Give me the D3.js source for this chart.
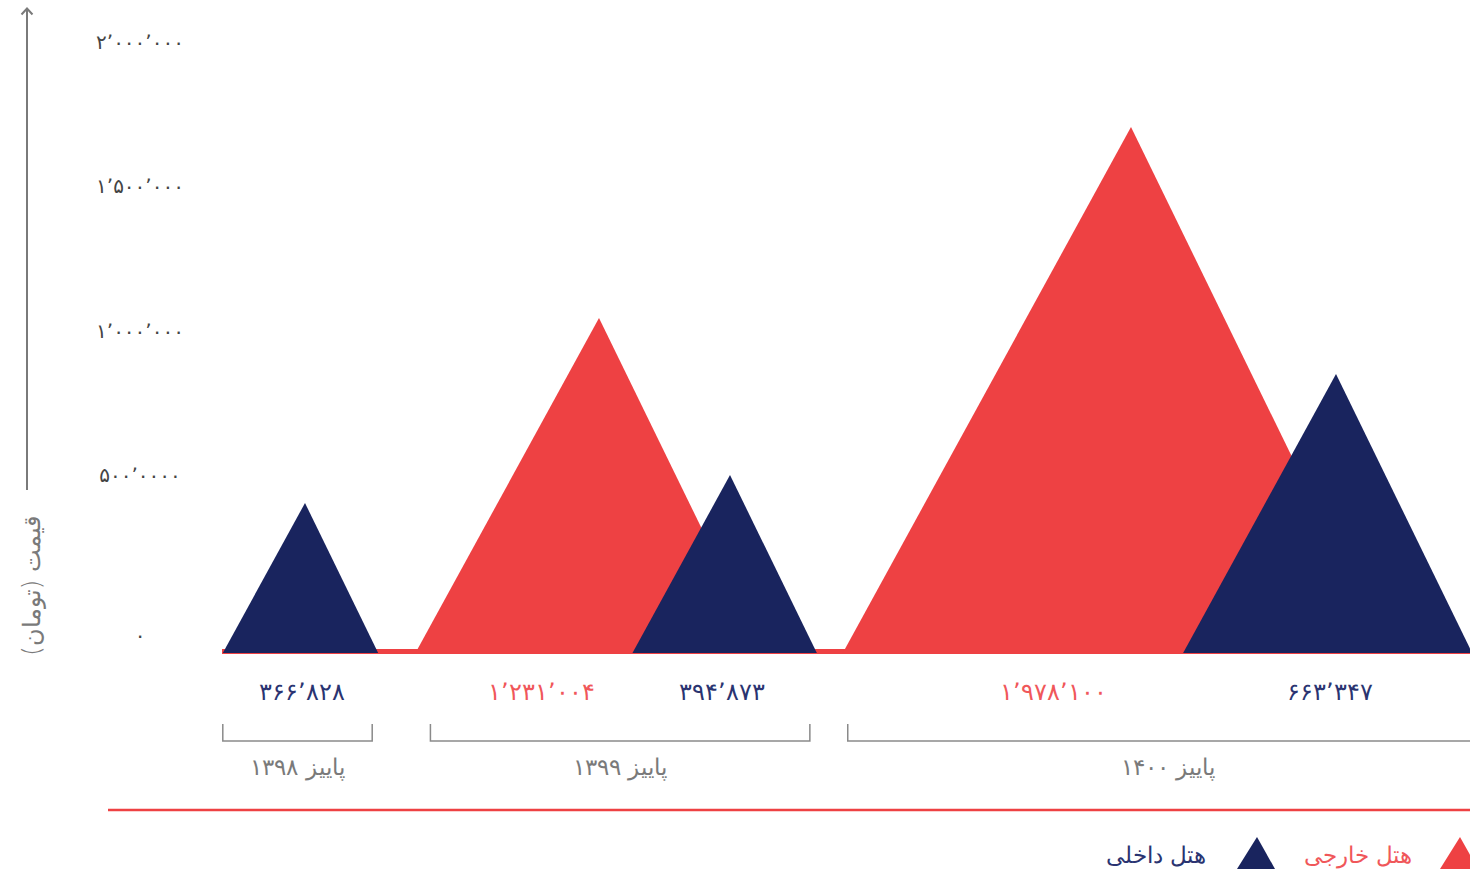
<!DOCTYPE html>
<html>
<head>
<meta charset="utf-8">
<script src="https://cdn.jsdelivr.net/npm/d3@7"></script>
<style>
  html, body { margin: 0; padding: 0; background: #fff; overflow: hidden; }
  svg { display: block; font-family: "DejaVu Sans", "Noto Sans", sans-serif; }
</style>
</head>
<body>
<svg id="chart" width="1470" height="873"></svg>
<script>
// ---------------- DATA ----------------
const periods = ["پاییز ۱۳۹۸", "پاییز ۱۳۹۹", "پاییز ۱۴۰۰"];
const seriesNames = ["هتل خارجی", "هتل داخلی"];          // foreign, domestic
const foreignValues = [null, 1231004, 1978100];            // هتل خارجی
const domesticValues = [366828, 394873, 663347];           // هتل داخلی
const yTickValues = [0, 500000, 1000000, 1500000, 2000000];
const yTickLabels = ["۰", "۵۰۰٬۰۰۰۰", "۱٬۰۰۰٬۰۰۰", "۱٬۵۰۰٬۰۰۰", "۲٬۰۰۰٬۰۰۰"];
const yAxisTitle = "قیمت (تومان)";

// ---------------- STYLE ----------------
const RED = "#EE4143", NAVY = "#19245E", GRAY = "#7a7a7a";
const svg = d3.select("#chart");

// build records
const records = [];
periods.forEach((p, i) => {
  if (foreignValues[i] != null) records.push({period: p, series: "foreign", value: foreignValues[i]});
  if (domesticValues[i] != null) records.push({period: p, series: "domestic", value: domesticValues[i]});
});
const key = d => d.period + "|" + d.series;

const baseY = 653;
// the infographic's own (non-uniform) visual scale for peak heights
const sortedVals = records.map(d => d.value).sort((a, b) => a - b);
const heightScale = d3.scaleLinear()
  .domain([0, ...sortedVals])
  .range([0, 150, 178, 279, 335, 526]);

// horizontal placement of the peaks
const xPeak = d3.scaleOrdinal()
  .domain(records.map(key))
  .range([305, 599, 730, 1131, 1336]);
const xLabel = d3.scaleOrdinal()
  .domain(records.map(key))
  .range([302, 541, 722, 1053, 1330]);

const color = d3.scaleOrdinal().domain(["foreign", "domestic"]).range([RED, NAVY]);
const labelColor = d3.scaleOrdinal().domain(["foreign", "domestic"]).range(["#F0575A", "#2A3471"]);

// y axis label scale
const yScale = d3.scaleLinear().domain([0, 500000, 2000000]).range([635, 475, 42]);

const toFa = s => s.replace(/\d/g, c => "۰۱۲۳۴۵۶۷۸۹"[+c]).replace(/,/g, "٬");
const fmt = v => toFa(d3.format(",")(v));

// ---------------- Y AXIS ----------------
svg.append("line")
  .attr("x1", 27).attr("x2", 27).attr("y1", 8).attr("y2", 490)
  .attr("stroke", GRAY).attr("stroke-width", 2);
svg.append("path")
  .attr("d", "M21.5,14.5 L27,8.5 L32.5,14.5")
  .attr("fill", "none").attr("stroke", GRAY).attr("stroke-width", 2);

svg.append("text")
  .attr("transform", "translate(32,586) rotate(-90)")
  .attr("text-anchor", "middle")
  .attr("dominant-baseline", "central")
  .attr("direction", "rtl")
  .attr("font-size", 24)
  .attr("font-weight", 300)
  .attr("fill", GRAY)
  .text(yAxisTitle);

svg.append("g").selectAll("text")
  .data(yTickValues)
  .join("text")
  .attr("x", 140)
  .attr("y", d => yScale(d))
  .attr("text-anchor", "middle")
  .attr("dominant-baseline", "central")
  .attr("font-size", 20)
  .attr("fill", "#444")
  .text((d, i) => yTickLabels[i]);

// ---------------- BASE STRIP ----------------
svg.append("rect")
  .attr("x", 222).attr("y", 649).attr("width", 1470 - 222).attr("height", 5)
  .attr("fill", RED);

// ---------------- TRIANGLES ----------------
const triPath = d => {
  const h = heightScale(d.value), px = xPeak(key(d));
  return `M${px - 0.548 * h},${baseY} L${px},${baseY - h} L${px + 0.488 * h},${baseY} Z`;
};
const ordered = records.filter(d => d.series === "foreign").concat(records.filter(d => d.series === "domestic"));
svg.append("g").selectAll("path")
  .data(ordered)
  .join("path")
  .attr("d", triPath)
  .attr("fill", d => color(d.series));

// value labels
svg.append("g").selectAll("text")
  .data(records)
  .join("text")
  .attr("x", d => xLabel(key(d)))
  .attr("y", 692)
  .attr("text-anchor", "middle")
  .attr("dominant-baseline", "central")
  .attr("font-size", 24)
  .attr("font-weight", 300)
  .attr("fill", d => labelColor(d.series))
  .text(d => fmt(d.value));

// ---------------- PERIOD BRACKETS ----------------
const groups = periods.map(p => {
  const rs = records.filter(d => d.period === p);
  const l = d3.min(rs, d => xPeak(key(d)) - 0.548 * heightScale(d.value));
  const r = d3.max(rs, d => xPeak(key(d)) + 0.488 * heightScale(d.value));
  return {period: p, l, r};
});
const bracketInset = [[0, 6], [15, 7], [5, -16]];
const gB = svg.append("g");
groups.forEach((g, i) => {
  const x0 = g.l + bracketInset[i][0], x1 = g.r - bracketInset[i][1];
  gB.append("path")
    .attr("d", `M${x0},724 L${x0},741 L${x1},741 L${x1},724`)
    .attr("fill", "none").attr("stroke", "#8a8a8a").attr("stroke-width", 1.5);
  gB.append("text")
    .attr("x", (x0 + x1) / 2)
    .attr("y", 767)
    .attr("text-anchor", "middle")
    .attr("dominant-baseline", "central")
    .attr("font-size", 23)
    .attr("font-weight", 300)
    .attr("fill", GRAY)
    .text(g.period);
});

// ---------------- RED RULE ----------------
svg.append("line")
  .attr("x1", 108).attr("x2", 1470).attr("y1", 810).attr("y2", 810)
  .attr("stroke", RED).attr("stroke-width", 2.5);

// ---------------- LEGEND ----------------
const legendItems = [
  {name: seriesNames[0], series: "foreign", tri: 1440, textEnd: 1412},
  {name: seriesNames[1], series: "domestic", tri: 1237, textEnd: 1206}
];
const lg = svg.append("g");
legendItems.forEach(it => {
  lg.append("path")
    .attr("d", `M${it.tri},869 L${it.tri + 20},837 L${it.tri + 38},869 Z`)
    .attr("fill", color(it.series));
  lg.append("text")
    .attr("x", it.textEnd)
    .attr("y", 855)
    .attr("text-anchor", "end")
    .attr("dominant-baseline", "central")
    .attr("font-size", 23)
    .attr("font-weight", 300)
    .attr("fill", it.series === "foreign" ? "#F0575A" : "#2A3471")
    .text(it.name);
});
</script>
</body>
</html>
